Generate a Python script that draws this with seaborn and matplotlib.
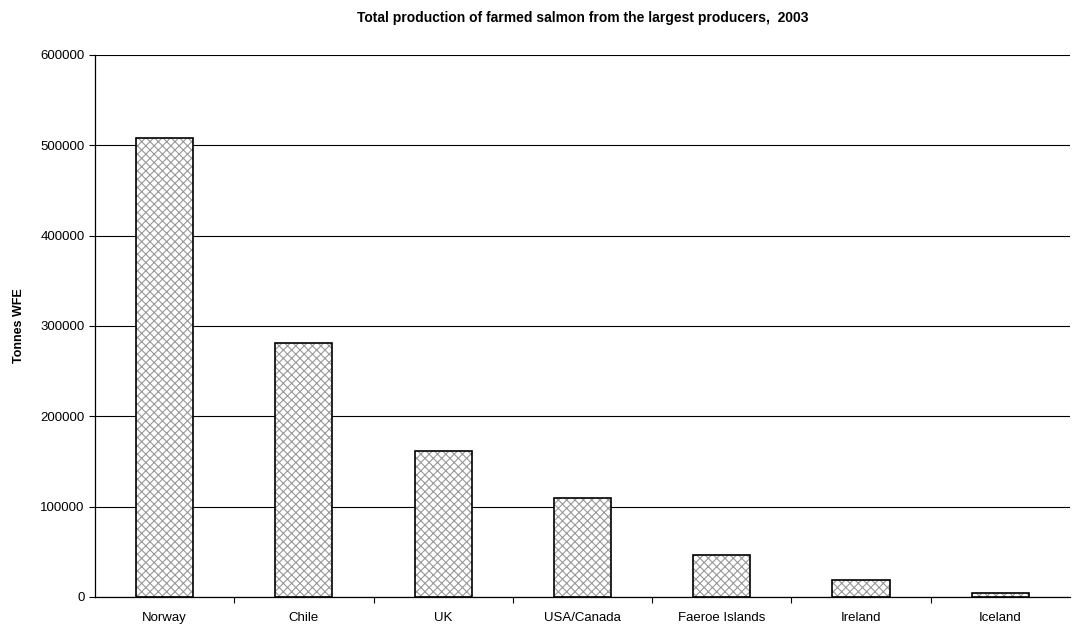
import numpy as np
import matplotlib.pyplot as plt
import seaborn as sns
import pandas as pd

#---data
countries = ['Norway', 'Chile', 'UK', 'USA/Canada', 'Faeroe Islands', 'Ireland', 'Iceland']
tonnes = [508000, 281000, 162000, 110000, 47000, 18500, 4500]

df = pd.DataFrame({'country': countries, 'tonnes': tonnes})

sns.set_style('white')
plt.rcParams['font.family'] = ['Liberation Sans', 'DejaVu Sans']
plt.rcParams['hatch.linewidth'] = 0.8
plt.rcParams['text.color'] = 'black'
plt.rcParams['axes.labelcolor'] = 'black'
plt.rcParams['xtick.color'] = 'black'
plt.rcParams['ytick.color'] = 'black'

fig = plt.figure(figsize=(10.72, 6.3), dpi=100)
ax = fig.add_axes([0.0886, 0.0524, 0.9094, 0.8603])

# hatched fill (gray pattern), then black outline on top
sns.barplot(data=df, x='country', y='tonnes', color='white', width=0.41,
            edgecolor='#999999', linewidth=0, ax=ax, zorder=2)
for p in ax.patches:
    p.set_hatch('xxxx')
sns.barplot(data=df, x='country', y='tonnes', fill=False, width=0.41,
            edgecolor='black', linewidth=1.2, ax=ax, zorder=3)

ax.set_ylim(0, 600000)
ax.set_xlim(-0.5, 6.5)
ax.set_yticks(np.arange(0, 600001, 100000))
ax.yaxis.grid(True, color='black', linewidth=0.8)
ax.set_axisbelow(True)

ax.set_xlabel('')
ax.set_ylabel('Tonnes WFE', fontsize=9, fontweight='bold', labelpad=11)
ax.set_title('Total production of farmed salmon from the largest producers,  2003',
             fontsize=10, fontweight='bold', pad=24)

for s in ['top', 'right']:
    ax.spines[s].set_visible(False)
for s in ['left', 'bottom']:
    ax.spines[s].set_color('black')
    ax.spines[s].set_linewidth(0.9)

ax.tick_params(axis='y', which='major', length=4, width=0.8, color='black',
               direction='out', labelsize=9.5, left=True)
ax.tick_params(axis='x', which='major', length=0, labelsize=9.5, pad=11)
ax.set_xticks(np.arange(0.5, 6.5, 1), minor=True)
ax.tick_params(axis='x', which='minor', length=4, width=0.8, color='black',
               direction='out', bottom=True)

fig.savefig('out.png', dpi=100)
